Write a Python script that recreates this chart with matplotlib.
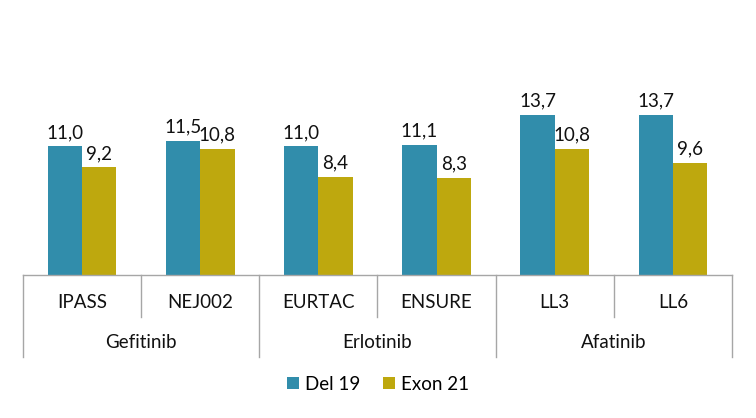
import numpy as np
import matplotlib.pyplot as plt

trials = ["IPASS", "NEJ002", "EURTAC", "ENSURE", "LL3", "LL6"]
drugs = ["Gefitinib", "Erlotinib", "Afatinib"]
del19 = [11.0, 11.5, 11.0, 11.1, 13.7, 13.7]
exon21 = [9.2, 10.8, 8.4, 8.3, 10.8, 9.6]

c_del = "#318DAB"
c_exon = "#BEA80E"
grid_c = "#A6A6A6"

plt.rcParams['font.family'] = ['Lato', 'DejaVu Sans']

W, H = 756, 418
fig = plt.figure(figsize=(W / 100, H / 100), dpi=100)
ax = fig.add_axes([23 / W, (H - 275) / H, (732 - 23) / W, (275 - 88) / H])

x = np.arange(len(trials))
bw = 0.29
b1 = ax.bar(x - bw / 2, del19, bw, color=c_del, label="Del 19")
b2 = ax.bar(x + bw / 2, exon21, bw, color=c_exon, label="Exon 21")

for bars, vals in ((b1, del19), (b2, exon21)):
    for b, v in zip(bars, vals):
        ax.annotate(f"{v:.1f}".replace(".", ","), (b.get_x() + b.get_width() / 2, v),
                    xytext=(0, 4), textcoords="offset points",
                    ha="center", va="bottom", fontsize=13.5, color="#111111")

ax.set_xlim(-0.5, len(trials) - 0.5)
ax.set_ylim(0, 16)
ax.axis("off")

# category table below the axis
tr = ax.get_xaxis_transform()
px = 1 / 187
ax.plot([-0.5, len(trials) - 0.5], [0, 0], color=grid_c, lw=1, transform=tr, clip_on=False)
for i in range(len(trials) + 1):
    xe = i - 0.5
    depth = 82 if i % 2 == 0 else 42
    ax.plot([xe, xe], [0, -depth * px], color=grid_c, lw=1, transform=tr, clip_on=False)

for xi, t in zip(x, trials):
    ax.text(xi, -28 * px, t, transform=tr, ha="center", va="center", fontsize=13.5, color="#111111")
for j, d in enumerate(drugs):
    ax.text(2 * j + 0.5, -68 * px, d, transform=tr, ha="center", va="center", fontsize=13.5, color="#111111")

fig.legend(loc="center", bbox_to_anchor=(378 / W, 1 - 384 / H), ncol=2, frameon=False,
           fontsize=13.5, handlelength=0.65, handleheight=0.65, handletextpad=0.3,
           columnspacing=1.2)

fig.savefig("out.png", dpi=100)
